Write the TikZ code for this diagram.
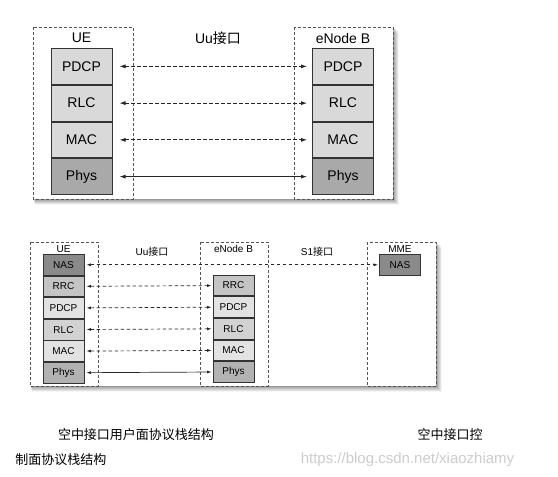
\documentclass[tikz,border=0pt]{standalone}
\usepackage{fontspec}
\setmainfont{Liberation Sans}
\newfontfamily\cjk{Noto Sans CJK SC}
\usetikzlibrary{arrows.meta}
\definecolor{lay}{HTML}{D9D9D9}
\definecolor{phys}{HTML}{A9A9A9}
\definecolor{nas}{HTML}{8A8A8A}
\definecolor{rrc}{HTML}{C4C4C4}
\definecolor{lite}{HTML}{E2E2E2}
\definecolor{mid}{HTML}{D2D2D2}
\definecolor{physb}{HTML}{B2B2B2}
\definecolor{dashc}{HTML}{555555}
\tikzset{
  entbox/.style={draw=dashc, line width=0.8pt, dash pattern=on 3pt off 2pt, fill=white},
  bigl/.style={draw=black!80, line width=1pt, minimum width=61pt, minimum height=35.75pt, anchor=north, inner sep=0pt, font=\fontsize{14}{16}\selectfont},
  smalll/.style={draw=black!80, line width=0.9pt, minimum width=41pt, minimum height=20.7pt, anchor=north, inner sep=0pt, font=\fontsize{10}{11}\selectfont},
  bigt/.style={font=\fontsize{14}{16}\selectfont, inner sep=0pt},
  smallt/.style={font=\fontsize{10}{11}\selectfont, inner sep=0pt},
  bigarr/.style={line width=0.8pt, black!85, {Latex[length=6pt,width=4pt]}-{Latex[length=6pt,width=4pt]}, shorten <=7pt, shorten >=5pt},
  smallarr/.style={line width=0.7pt, black!85, {Latex[length=4.5pt,width=3pt]}-{Latex[length=4.5pt,width=3pt]}, shorten <=2pt, shorten >=1pt},
  dsh/.style={dash pattern=on 3.5pt off 2.5pt},
  captxt/.style={font=\cjk\fontsize{13}{15}\selectfont, inner sep=0pt}
}
\begin{document}
\begin{tikzpicture}[x=1pt,y=-1pt]
\useasboundingbox (0,0) rectangle (558,477);
% soft shadows
\foreach \d/\o in {1/0.12,2/0.10,3/0.08,4/0.07,5/0.05,6/0.04,7/0.03} {
  \fill[black, opacity=\o] (33+\d*0.3,27+\d*0.8) rectangle (393+\d*0.9,199+\d*0.9);
  \fill[black, opacity=\o] (30+\d*0.3,242+\d*0.8) rectangle (436+\d*0.9,386+\d*0.9);
}
% ---------- top diagram ----------
\fill[white] (33,27) rectangle (393,199);
\draw[entbox] (33,27) rectangle (133,199);
\draw[entbox] (294,27) rectangle (393,199);
\node[bigt] (tue) at (81.5,38) {UE};
\node[bigt] (tuu) at (218,38) {Uu{\cjk 接口}};
\node[bigt] (tenb) at (343,38) {eNode B};
\node[bigl, fill=lay] (u1) at (81.5,48) {PDCP};
\node[bigl, fill=lay] (u2) at (u1.south) {RLC};
\node[bigl, fill=lay] (u3) at (u2.south) {MAC};
\node[bigl, fill=phys] (u4) at (u3.south) {Phys};
\node[bigl, fill=lay] (e1) at (343,48) {PDCP};
\node[bigl, fill=lay] (e2) at (e1.south) {RLC};
\node[bigl, fill=lay] (e3) at (e2.south) {MAC};
\node[bigl, fill=phys] (e4) at (e3.south) {Phys};
\draw[bigarr, dsh] (u1) -- (e1);
\draw[bigarr, dsh] (u2) -- (e2);
\draw[bigarr, dsh] (u3) -- (e3);
\draw[bigarr] (u4) -- (e4);
% ---------- bottom diagram ----------
\fill[white] (30,242) rectangle (436,386);
\draw[entbox] (30,242) rectangle (98,386);
\draw[entbox] (200,242) rectangle (268,386);
\draw[entbox] (367,242) rectangle (436,386);
\node[smallt] (bue) at (63.5,249) {UE};
\node[smallt] (buu) at (152,252) {Uu{\cjk 接口}};
\node[smallt] (benb) at (233.5,249) {eNode B};
\node[smallt] (bs1) at (317,252) {S1{\cjk 接口}};
\node[smallt] (bmme) at (400,249) {MME};
\node[smalll, fill=nas] (n1) at (63.5,254) {NAS};
\node[smalll, fill=rrc] (n2) at (n1.south) {RRC};
\node[smalll, fill=lite] (n3) at (n2.south) {PDCP};
\node[smalll, fill=mid] (n4) at (n3.south) {RLC};
\node[smalll, fill=lite] (n5) at (n4.south) {MAC};
\node[smalll, fill=physb] (n6) at (n5.south) {Phys};
\node[smalll, fill=rrc] (m2) at (233.5,274.7) {RRC};
\node[smalll, fill=lite] (m3) at (m2.south) {PDCP};
\node[smalll, fill=mid] (m4) at (m3.south) {RLC};
\node[smalll, fill=lite] (m5) at (m4.south) {MAC};
\node[smalll, fill=physb] (m6) at (m5.south) {Phys};
\node[smalll, fill=nas] (k1) at (400,254) {NAS};
\draw[smallarr, dsh] (n1) -- (k1);
\draw[smallarr, dsh] (n2) -- (m2);
\draw[smallarr, dsh] (n3) -- (m3);
\draw[smallarr, dsh] (n4) -- (m4);
\draw[smallarr, dsh] (n5) -- (m5);
\draw[smallarr] (n6) -- (m6);
% ---------- captions ----------
\node[captxt] (c1) at (136,435) {空中接口用户面协议栈结构};
\node[captxt] (c2) at (450,435) {空中接口控};
\node[captxt] (c3) at (61,460) {制面协议栈结构};
\node[font=\fontsize{15}{17}\selectfont, text=black!20, inner sep=0pt] (wm) at (407.5,460) {https://blog.csdn.net/xiaozhiamy};
\end{tikzpicture}
\end{document}
